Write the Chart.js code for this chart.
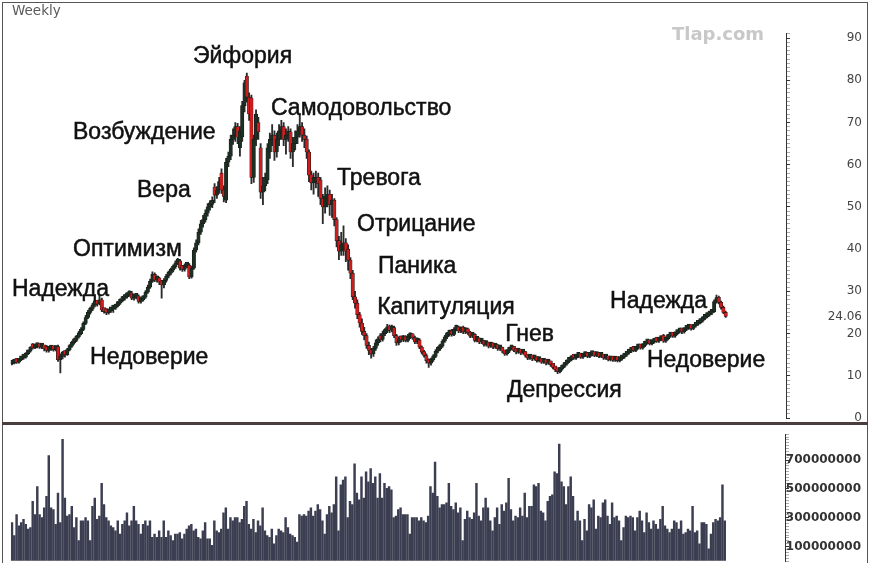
<!DOCTYPE html>
<html>
<head>
<meta charset="utf-8">
<script src="https://cdn.jsdelivr.net/npm/chart.js@4.4.1/dist/chart.umd.min.js"></script>
<style>
html, body { margin: 0; padding: 0; background: #fff; width: 869px; height: 563px; overflow: hidden; }
#frame { position: absolute; left: 2px; top: 2px; width: 866px; height: 562px; box-sizing: border-box; border: 1px solid #555; }
#sep { position: absolute; left: 2px; top: 422px; width: 866px; height: 3px; background: #4b3d3d; z-index: 5; }
#price { position: absolute; left: 3px; top: 3px; }
#volume { position: absolute; left: 3px; top: 425px; }
</style>
</head>
<body>
<div id="frame"></div>
<canvas id="price" width="863" height="430"></canvas>
<canvas id="volume" width="863" height="150"></canvas>
<div id="sep"></div>
<script>
// weekly candles, oldest first
const opens = [
  12.8,13.0,13.4,13.2,13.8,14.2,14.4,15.2,15.8,17.3,
  16.6,16.9,17.1,16.8,16.9,16.8,16.0,16.3,16.6,16.2,
  16.9,13.8,14.6,15.4,15.0,16.2,17.0,17.8,18.4,19.2,
  20.0,21.0,22.4,23.8,25.0,25.8,26.8,27.4,27.0,28.0,
  25.6,25.6,24.9,25.4,25.8,26.0,26.6,27.2,27.8,28.3,
  28.7,29.2,29.6,28.4,28.6,28.9,27.6,28.0,28.6,29.8,
  31.0,32.4,34.0,32.7,33.0,32.2,31.5,32.6,33.6,34.3,
  35.0,35.8,36.7,37.2,35.5,35.2,36.0,36.2,33.4,35.5,
  39.8,41.5,44.0,46.0,47.0,48.5,50.0,50.6,54.7,52.8,
  54.0,58.0,54.0,51.6,60.6,62.0,66.0,67.0,69.0,64.0,
  66.6,74.0,81.0,76.0,75.8,57.0,66.0,70.0,64.0,53.5,
  55.0,56.4,63.0,66.0,67.0,63.0,66.0,68.0,69.0,66.0,
  67.0,67.8,63.0,65.0,66.5,68.0,69.0,67.0,66.0,63.0,
  57.6,55.7,56.0,57.0,56.4,52.0,50.0,52.0,53.0,50.5,
  51.6,47.0,42.0,39.5,40.0,41.5,40.0,37.4,34.3,28.7,
  27.2,24.5,22.5,20.5,19.5,17.2,16.0,15.2,16.5,17.8,
  19.5,18.6,20.0,20.6,21.8,20.8,21.4,19.5,17.8,18.8,
  18.5,19.0,18.4,19.2,19.6,19.0,18.0,18.5,16.8,15.6,
  14.8,13.6,13.0,13.8,14.6,15.8,16.4,17.0,18.2,19.2,
  19.8,20.6,19.8,21.0,21.4,20.6,21.5,20.4,21.0,20.2,
  19.4,19.8,18.4,18.8,18.0,18.2,17.4,17.8,17.0,17.6,
  16.8,17.2,16.4,16.6,15.8,15.2,15.8,16.4,16.8,16.0,
  15.6,16.0,15.4,15.6,14.8,14.2,14.6,14.0,14.3,13.6,
  13.8,13.2,13.6,13.0,13.3,12.6,12.0,11.4,11.0,11.6,
  12.2,12.8,13.4,13.8,14.8,14.2,14.6,14.9,14.4,14.8,
  15.2,14.6,15.0,15.4,14.8,15.2,14.6,14.8,14.2,14.4,
  13.8,14.2,13.7,14.0,13.6,14.0,14.4,14.9,15.4,15.8,
  16.4,16.0,16.6,17.2,16.6,17.2,17.8,18.2,17.6,18.0,
  18.6,18.2,18.6,19.6,18.2,18.8,19.4,20.0,19.4,20.0,
  20.4,20.8,20.4,21.0,21.3,21.6,21.2,21.8,22.2,22.6,
  23.0,23.6,24.0,24.4,24.8,25.2,27.6,28.6,27.4,26.2,25.0
];
const closes = [
  13.0,13.3,13.2,13.8,14.2,14.4,15.2,15.8,16.5,16.6,
  16.9,17.1,16.8,16.9,16.4,16.0,16.3,16.6,16.2,16.8,
  13.8,14.6,15.4,15.0,16.2,17.0,17.8,18.4,19.2,20.0,
  21.0,22.4,23.8,25.0,25.8,26.8,27.2,27.0,28.0,25.6,
  25.2,24.9,25.4,25.8,26.0,26.6,27.2,27.8,28.3,28.7,
  29.2,29.6,28.4,28.6,28.9,27.6,28.0,28.6,29.8,31.0,
  32.4,34.0,32.7,33.0,32.2,31.5,32.6,33.6,34.3,35.0,
  35.8,36.7,37.2,35.5,35.2,36.0,36.2,33.4,35.5,39.8,
  41.5,44.0,46.0,47.0,48.5,50.0,50.6,51.5,52.8,54.0,
  56.0,54.0,52.5,60.6,62.0,66.0,67.0,69.0,66.5,68.0,
  74.0,79.4,76.0,72.0,57.0,66.0,72.0,67.8,53.5,55.0,
  57.0,64.0,66.0,67.0,63.0,66.0,68.0,69.0,66.0,67.0,
  67.8,63.0,65.0,66.5,68.0,69.0,67.0,66.0,63.0,57.5,
  55.7,57.0,56.5,55.5,52.0,50.0,52.5,53.0,50.5,51.6,
  47.0,42.0,39.5,41.0,41.5,39.5,37.4,34.3,28.7,27.2,
  24.5,22.5,20.5,19.5,17.2,16.0,15.2,16.5,17.8,18.5,
  18.6,20.0,20.6,21.6,20.8,21.4,19.5,17.8,18.6,18.5,
  19.0,18.4,19.2,19.6,19.0,18.0,18.5,16.8,15.6,14.8,
  13.6,13.0,13.8,14.6,15.8,16.4,17.0,18.2,19.2,19.8,
  20.3,19.8,21.0,21.4,20.6,21.2,20.4,21.0,20.2,19.4,
  19.8,18.4,18.8,18.0,18.2,17.4,17.8,17.0,17.6,16.8,
  17.2,16.4,16.6,15.8,15.2,15.8,16.4,16.8,16.0,15.6,
  16.0,15.4,15.6,14.8,14.2,14.6,14.0,14.3,13.6,13.8,
  13.2,13.6,13.0,13.3,12.6,12.0,11.4,11.0,11.6,12.2,
  12.8,13.4,13.8,14.4,14.2,14.6,14.9,14.4,14.8,15.2,
  14.6,15.0,15.4,14.8,15.2,14.6,14.8,14.2,14.4,13.8,
  14.2,13.7,14.0,13.6,14.0,14.4,14.9,15.4,15.8,16.2,
  16.0,16.6,17.0,16.6,17.2,17.8,18.1,17.6,18.0,18.4,
  18.2,18.6,18.8,18.2,18.8,19.4,19.8,19.4,20.0,20.4,
  20.8,20.4,21.0,21.3,21.6,21.2,21.8,22.2,22.6,23.0,
  23.6,24.0,24.4,24.8,25.2,27.6,28.4,27.4,26.2,25.0,24.06
];
const highs = [
  13.4,13.6,13.7,14.1,14.5,14.9,15.5,16.1,16.9,17.6,
  17.3,17.5,17.4,17.2,17.1,17.2,16.7,17.0,16.9,17.1,
  17.3,15.2,15.8,15.9,16.5,17.4,18.2,18.9,19.6,20.5,
  21.4,22.8,24.3,25.5,26.3,27.2,27.8,27.9,29.2,28.4,
  26.0,25.9,25.8,26.2,26.5,27.0,27.6,28.2,28.8,29.2,
  29.7,30.1,30.0,29.1,29.4,29.2,28.5,29.0,30.2,31.5,
  32.9,34.6,34.4,33.6,33.4,32.6,33.0,34.0,34.8,35.5,
  36.3,37.2,37.8,37.6,36.0,36.5,36.9,36.6,36.0,40.3,
  42.2,44.8,46.8,48.0,49.3,50.8,51.5,52.4,55.5,54.8,
  57.0,59.0,55.0,61.5,63.0,67.0,68.5,70.0,69.8,69.0,
  75.0,80.0,81.7,77.0,76.5,67.0,73.0,71.2,65.0,57.0,
  58.0,65.0,67.5,69.5,68.0,67.5,69.5,70.5,70.0,68.5,
  69.0,68.5,66.5,68.0,69.5,72.0,70.0,68.5,66.8,63.5,
  58.5,58.0,58.5,58.0,57.0,53.0,54.5,55.0,54.0,53.0,
  52.0,47.5,43.0,44.0,45.5,42.5,41.0,38.0,35.0,30.0,
  28.0,25.0,23.5,21.5,20.0,18.0,16.5,17.0,18.5,19.2,
  20.0,20.6,21.2,22.2,22.0,22.0,21.8,19.8,19.2,19.4,
  19.6,19.5,19.8,20.2,20.0,19.4,19.0,18.8,17.1,16.0,
  15.2,14.0,14.2,15.0,16.2,16.9,17.5,18.6,19.6,20.3,
  20.8,21.0,21.4,22.0,21.8,21.6,21.8,21.4,21.3,20.5,
  20.2,20.0,19.2,19.0,18.6,18.4,18.2,18.0,18.0,17.8,
  17.6,17.4,17.0,16.8,16.0,16.2,16.8,17.2,17.0,16.3,
  16.4,16.2,16.0,15.8,15.0,15.0,14.8,14.7,14.5,14.2,
  14.0,14.0,13.8,13.7,13.5,12.8,12.2,11.6,12.0,12.6,
  13.2,13.8,14.2,14.8,15.1,15.0,15.3,15.1,15.2,15.6,
  15.4,15.4,15.8,15.6,15.5,15.4,15.2,15.0,14.8,14.6,
  14.5,14.4,14.3,14.2,14.3,14.8,15.3,15.8,16.2,16.6,
  16.7,17.0,17.4,17.4,17.6,18.2,18.5,18.4,18.4,18.8,
  18.9,19.0,19.2,19.8,19.2,19.8,20.2,20.3,20.4,20.8,
  21.2,21.1,21.4,21.7,22.0,21.9,22.2,22.6,23.0,23.5,
  24.0,24.5,24.9,25.3,25.7,28.0,29.1,28.9,27.7,26.5,25.3
];
const lows = [
  12.6,12.8,12.9,13.0,13.6,13.9,14.2,15.0,15.6,16.3,
  16.4,16.6,16.5,16.4,15.9,15.6,15.6,16.0,15.8,15.9,
  13.4,10.7,14.0,14.4,14.8,15.9,16.7,17.5,18.1,18.9,
  19.7,20.7,22.1,23.5,24.6,25.4,26.3,26.5,26.8,25.2,
  24.8,24.5,24.6,25.0,25.0,25.7,26.3,26.9,27.5,27.9,
  28.4,28.8,28.0,27.9,28.2,27.2,27.2,27.7,28.3,29.5,
  30.7,32.1,32.3,32.2,31.6,28.4,30.8,32.2,33.2,33.9,
  34.6,35.4,36.3,35.0,34.7,34.8,35.6,33.0,33.1,35.2,
  39.3,41.0,43.5,45.2,46.4,47.8,49.2,49.8,51.0,52.0,
  53.2,53.2,51.2,51.0,59.5,61.2,64.8,65.5,65.0,62.0,
  65.5,72.5,74.8,70.5,55.5,55.8,64.5,66.0,52.0,50.5,
  53.8,55.5,61.5,64.5,61.0,61.8,64.5,66.0,64.5,62.5,
  65.5,61.5,59.5,63.5,65.0,66.5,65.5,64.0,61.5,56.0,
  54.0,53.0,54.5,52.5,50.5,46.0,48.5,50.0,48.0,47.5,
  45.5,40.5,37.5,38.5,38.5,37.0,35.0,33.0,28.0,26.0,
  23.5,21.5,19.8,18.5,16.5,15.0,14.2,14.6,16.0,17.2,
  18.0,18.2,19.5,20.2,20.2,20.4,19.0,17.2,17.3,18.0,
  18.1,18.0,18.0,18.8,18.6,17.6,17.6,16.4,15.2,14.4,
  13.0,12.0,12.5,13.4,14.3,15.4,16.0,16.7,17.9,18.8,
  19.4,19.4,19.5,20.6,20.2,20.2,20.0,20.0,19.8,19.0,
  19.0,18.0,18.0,17.6,17.6,17.0,17.0,16.6,16.7,16.4,
  16.5,16.0,16.0,15.4,14.8,14.9,15.5,16.1,15.7,15.2,
  15.3,15.0,15.1,14.4,13.8,13.9,13.6,13.7,13.2,13.3,
  12.9,12.9,12.6,12.7,12.2,11.6,11.0,10.5,10.7,11.3,
  11.9,12.5,13.1,13.5,13.9,13.9,14.3,14.1,14.1,14.5,
  14.3,14.3,14.7,14.5,14.5,14.3,14.3,13.9,13.9,13.5,
  13.5,13.4,13.4,13.3,13.3,13.7,14.1,14.6,15.1,15.5,
  15.7,15.7,16.3,16.3,16.3,16.9,17.5,17.3,17.3,17.7,
  17.9,17.9,18.3,17.9,17.9,18.5,19.1,19.1,19.1,19.7,
  20.1,20.0,20.1,20.7,21.0,20.8,20.9,21.5,21.9,22.3,
  22.7,23.3,23.7,24.1,24.5,25.0,27.2,27.0,25.8,24.7,23.8
];
// weekly volume, millions of shares
const volumes = [
  267,176,323,244,267,289,255,221,232,414,
  323,516,323,301,369,448,732,369,357,255,
  471,267,845,437,312,323,380,232,301,142,
  278,278,301,278,142,380,437,289,312,539,
  391,301,278,244,232,210,278,187,255,278,
  335,244,278,380,278,255,187,255,278,244,
  278,164,187,164,210,164,278,164,210,176,
  142,187,187,198,153,187,221,244,255,210,
  221,164,153,210,267,153,153,108,278,210,
  198,221,335,369,221,301,278,301,301,267,
  289,380,414,255,221,289,198,278,244,369,
  210,176,164,221,119,176,221,210,198,301,
  232,187,176,164,131,323,312,323,312,346,
  369,312,346,391,357,278,187,323,380,335,
  391,584,210,528,562,584,301,414,391,675,
  471,425,584,437,618,550,641,539,584,437,
  607,437,539,505,516,494,301,312,357,369,
  323,323,323,187,301,301,301,278,301,278,
  267,312,516,471,686,
  448,369,391,391,403,539,380,357,403,335,
  369,142,289,346,301,289,335,539,312,278,
  369,437,369,278,210,301,369,255,391,346,
  403,573,357,278,312,301,369,312,471,301,
  380,380,528,516,539,346,335,278,414,448,
  460,618,607,811,
  550,516,391,516,584,448,278,346,278,142,
  289,210,391,369,425,221,312,301,403,425,
  312,255,403,301,312,278,142,232,312,301,
  312,301,210,301,346,278,198,335,267,221,
  278,255,221,289,380,244,221,198,221,278,
  267,221,278,187,198,221,210,380,198,210,
  119,267,267,255,85,187,267,289,278,301,
  528,278
];
const priceTicks = [0, 10, 20, 30, 40, 50, 60, 70, 80, 90];
const volumeTicks = [100, 300, 500, 700];
// market emotion phases, anchored at (week, price)
const phaseText  = ['Надежда', 'Недоверие', 'Оптимизм', 'Возбуждение', 'Вера', 'Эйфория', 'Самодовольство',
                    'Тревога', 'Отрицание', 'Паника', 'Капитуляция', 'Гнев', 'Депрессия', 'Надежда', 'Недоверие'];
const phaseWeek  = [0, 33.9, 26.5, 26.5, 54.3, 78.6, 112.5, 141.2, 149.9, 159, 158.6, 214.2, 215, 259.8, 275.8];
const phasePrice = [30.3, 14.4, 39.8, 67.5, 53.8, 85.7, 73.2, 56.8, 45.9, 35.8, 26.1, 19.7, 6.4, 27.5, 13.7];

const RED = '#d01c1c';
const DARK = '#1a3122';
const weeks = closes.map((c, i) => i);

const xScale = { type: 'linear', min: -0.5, max: 336.2, offset: false, display: false };

const annotate = {
  id: 'annotate',
  afterDraw(chart) {
    const { ctx, scales: { x, y } } = chart;
    ctx.save();
    ctx.textBaseline = 'middle';
    ctx.fillStyle = '#111';
    ctx.strokeStyle = '#111';
    ctx.lineWidth = 0.5;
    ctx.font = '23px "Liberation Sans", Arial, sans-serif';
    phaseText.forEach((t, k) => {
      const px = x.getPixelForValue(phaseWeek[k]);
      const py = y.getPixelForValue(phasePrice[k]);
      ctx.fillText(t, px, py);
      ctx.strokeText(t, px, py);
    });
    const last = closes[closes.length - 1];
    ctx.font = '12px "DejaVu Sans"';
    ctx.fillStyle = '#444';
    ctx.textAlign = 'right';
    ctx.fillText(last.toFixed(2), y.right, y.getPixelForValue(last));
    ctx.textAlign = 'left';
    ctx.textBaseline = 'alphabetic';
    ctx.font = '13.5px "DejaVu Sans"';
    ctx.fillStyle = '#5a5a5a';
    ctx.fillText('Weekly', 9, 12);
    ctx.font = 'bold 18px "DejaVu Sans"';
    ctx.fillStyle = '#c8c8c8';
    ctx.fillText('Tlap.com', 669, 37);
    ctx.restore();
  }
};

new Chart(document.getElementById('price'), {
  type: 'bar',
  data: {
    datasets: [
      {
        data: weeks.map(i => ({ x: i, y: [lows[i], highs[i]] })),
        backgroundColor: '#2b2b2b',
        barThickness: 1.2,
        grouped: false,
        order: 2
      },
      {
        data: weeks.map(i => ({ x: i, y: [opens[i], closes[i]] })),
        backgroundColor: weeks.map(i => closes[i] < opens[i] ? RED : DARK),
        borderColor: '#1a1a1a',
        borderWidth: 0.6,
        borderSkipped: false,
        barThickness: 3.4,
        minBarLength: 4,
        grouped: false,
        order: 1
      }
    ]
  },
  options: {
    responsive: false,
    animation: false,
    layout: { padding: { left: 7.85, right: 4, top: 30.8, bottom: 15 } },
    plugins: { legend: { display: false }, tooltip: { enabled: false } },
    scales: {
      x: xScale,
      y: {
        position: 'right',
        min: 0,
        max: 91,
        afterFit: s => { s.width = 76; },
        border: { display: true, color: '#333', width: 1 },
        grid: {
          drawOnChartArea: false,
          tickLength: 4,
          tickColor: c => (c.tick && c.tick.value % 10 === 0) ? '#333' : '#aaa'
        },
        ticks: {
          stepSize: 1,
          autoSkip: false,
          crossAlign: 'far',
          padding: 2,
          color: '#444',
          font: { family: 'DejaVu Sans', size: 12 },
          callback: v => priceTicks.includes(v) ? String(v) : ''
        }
      }
    }
  },
  plugins: [annotate]
});

new Chart(document.getElementById('volume'), {
  type: 'bar',
  data: {
    datasets: [{
      data: weeks.map(i => ({ x: i, y: volumes[i] })),
      backgroundColor: '#3b3e50',
      barThickness: 1.8
    }]
  },
  options: {
    responsive: false,
    animation: false,
    layout: { padding: { left: 7.85, right: 5, top: 7, bottom: 14 } },
    plugins: { legend: { display: false }, tooltip: { enabled: false } },
    scales: {
      x: xScale,
      y: {
        position: 'right',
        min: 0,
        max: 880,
        afterFit: s => { s.width = 76; },
        border: { display: true, color: '#333', width: 1 },
        grid: {
          drawOnChartArea: false,
          tickLength: 4,
          tickColor: c => (c.tick && volumeTicks.includes(c.tick.value)) ? '#333' : '#aaa'
        },
        ticks: {
          stepSize: 20,
          autoSkip: false,
          crossAlign: 'far',
          padding: 2,
          color: '#333',
          font: { family: 'DejaVu Sans', size: 12, weight: 'bold' },
          callback: v => volumeTicks.includes(v) ? String(v * 1000000) : ''
        }
      }
    }
  }
});
</script>
</body>
</html>
